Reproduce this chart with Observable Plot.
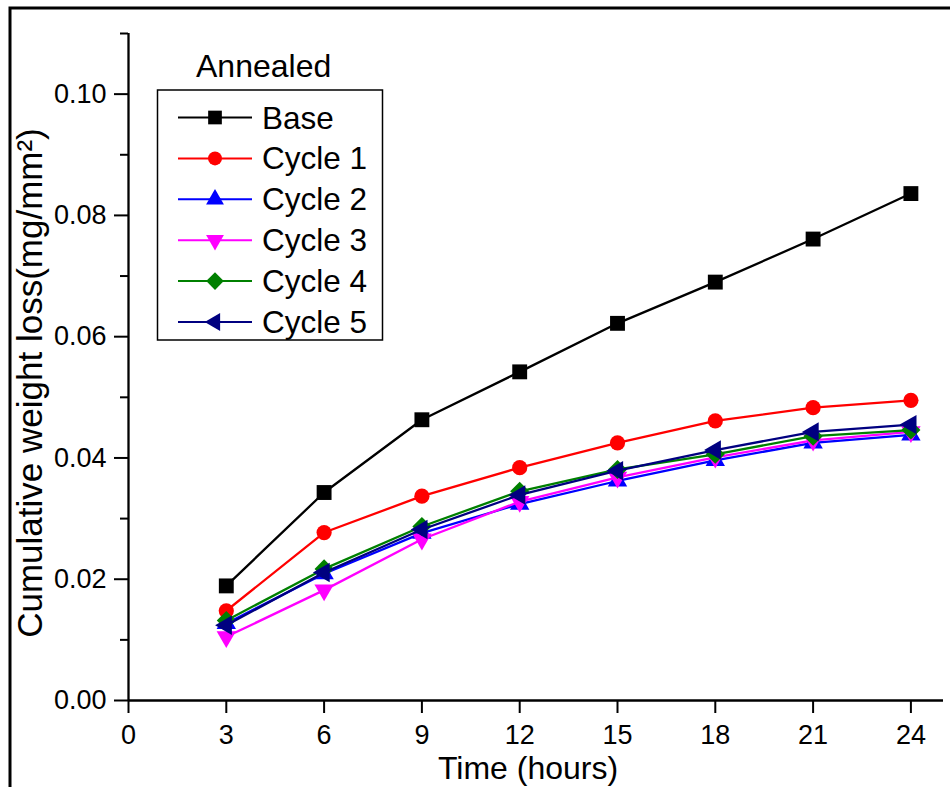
<!DOCTYPE html>
<html>
<head>
<meta charset="utf-8">
<script src="https://cdn.jsdelivr.net/npm/d3@7"></script>
<script src="https://cdn.jsdelivr.net/npm/@observablehq/plot@0.6"></script>
<style>
  html, body { margin: 0; padding: 0; background: #fff; overflow: hidden; }
</style>
</head>
<body>
<div id="chart"></div>
<script>
// ---- data ----
const hours = [3, 6, 9, 12, 15, 18, 21, 24];
const base   = [0.0189, 0.0343, 0.0463, 0.0542, 0.0622, 0.0690, 0.0761, 0.0836];
const cycle1 = [0.0148, 0.0277, 0.0337, 0.0384, 0.0425, 0.0461, 0.0483, 0.0495];
const cycle2 = [0.0127, 0.0209, 0.0276, 0.0324, 0.0362, 0.0396, 0.0425, 0.0438];
const cycle3 = [0.0105, 0.0182, 0.0266, 0.0328, 0.0368, 0.0401, 0.0429, 0.0443];
const cycle4 = [0.0132, 0.0217, 0.0287, 0.0345, 0.0381, 0.0406, 0.0436, 0.0446];
const cycle5 = [0.0124, 0.0211, 0.0282, 0.0339, 0.0379, 0.0413, 0.0443, 0.0455];

const seriesNames  = ["Base", "Cycle 1", "Cycle 2", "Cycle 3", "Cycle 4", "Cycle 5"];
const seriesValues = [base, cycle1, cycle2, cycle3, cycle4, cycle5];
const seriesColors = ["#000000", "#ff0000", "#0000ff", "#ff00ff", "#008000", "#000080"];
const seriesSymbols = ["square", "circle", "triangle", "triangle", "diamond2", "triangle"];
const seriesRotate  = [0, 0, 0, 180, 0, -90];
const seriesR       = [8.4, 7.6, 7.2, 7.2, 8.6, 7.2];

const xTicks = [0, 3, 6, 9, 12, 15, 18, 21, 24];
const yTicks = [0, 0.02, 0.04, 0.06, 0.08, 0.10];
const yMinorTicks = [0.01, 0.03, 0.05, 0.07, 0.09, 0.11];
const legendTitle = "Annealed";
const xTitle = "Time (hours)";
const yTitle = "Cumulative weight loss(mg/mm\u00B2)";

// ---- table ----
const rows = [];
seriesNames.forEach((name, i) => {
  hours.forEach((h, j) => rows.push({series: name, idx: i, hours: h, value: seriesValues[i][j]}));
});

const font = "'Liberation Sans', Arial, Helvetica, sans-serif";

const seriesMarks = seriesNames.flatMap((name, i) => {
  const data = rows.filter(d => d.idx === i);
  return [
    Plot.line(data, {x: "hours", y: "value", stroke: seriesColors[i], strokeWidth: 2.3}),
    Plot.dot(data, {x: "hours", y: "value", fill: seriesColors[i], stroke: "none",
      symbol: seriesSymbols[i], r: seriesR[i], rotate: seriesRotate[i]})
  ];
});

const plot = Plot.plot({
  width: 950,
  height: 787,
  marginLeft: 128,
  marginRight: 7,
  marginTop: 33,
  marginBottom: 87,
  style: {fontFamily: font, fontSize: "27px", color: "#000", background: "#fff"},
  x: {domain: [0, 25]},
  y: {domain: [0, 0.11]},
  marks: [
    Plot.axisX({ticks: xTicks, tickSize: 13, tickPadding: 11, strokeWidth: 2,
      fontSize: 27, tickFormat: d => String(d), label: null}),
    Plot.axisY({ticks: yTicks, tickSize: 14, tickPadding: 8, strokeWidth: 2,
      fontSize: 27, tickFormat: d3.format(".2f"), label: null}),
    Plot.axisY({ticks: yMinorTicks, tickSize: 8, strokeWidth: 2,
      tickFormat: () => "", label: null}),
    Plot.ruleX([0], {strokeWidth: 2.3}),
    Plot.ruleY([0], {strokeWidth: 2.3}),
    ...seriesMarks,
    Plot.text([xTitle], {frameAnchor: "bottom", text: d => d, dx: -8, dy: 78,
      lineAnchor: "bottom", fontSize: 32, fill: "#000"}),
    Plot.text([yTitle], {frameAnchor: "left", text: d => d, rotate: -90, dx: -87, dy: 16,
      lineAnchor: "bottom", textAnchor: "middle", fontSize: 35, fill: "#000"})
  ]
});

document.getElementById("chart").appendChild(plot);

// ---- legend and outer frame ----
const svg = d3.select(plot);
const symbolTypes = {
  square: d3.symbolSquare,
  circle: d3.symbolCircle,
  triangle: d3.symbolTriangle,
  diamond2: d3.symbolDiamond2 || d3.symbolDiamond
};
const lg = svg.append("g").attr("font-family", font).attr("text-anchor", "start");
lg.append("rect").attr("x", 157.5).attr("y", 90).attr("width", 225).attr("height", 250)
  .attr("fill", "#fff").attr("stroke", "#000").attr("stroke-width", 1.5);
lg.append("text").attr("x", 196).attr("y", 77).attr("font-size", 32).attr("fill", "#000").text(legendTitle);
seriesNames.forEach((name, i) => {
  const y = 117.5 + i * 40.9;
  lg.append("line").attr("x1", 178).attr("x2", 252).attr("y1", y).attr("y2", y)
    .attr("stroke", seriesColors[i]).attr("stroke-width", 2);
  const r = seriesR[i] * 0.92;
  lg.append("path")
    .attr("d", d3.symbol(symbolTypes[seriesSymbols[i]], r * r * Math.PI)())
    .attr("transform", `translate(215,${y}) rotate(${seriesRotate[i]})`)
    .attr("fill", seriesColors[i]);
  lg.append("text").attr("x", 262).attr("y", y + 11).attr("font-size", 31.5)
    .attr("fill", "#000").text(name);
});
svg.append("rect").attr("x", 10).attr("y", 8).attr("width", 960).attr("height", 800)
  .attr("fill", "none").attr("stroke", "#000").attr("stroke-width", 3);
</script>
</body>
</html>
